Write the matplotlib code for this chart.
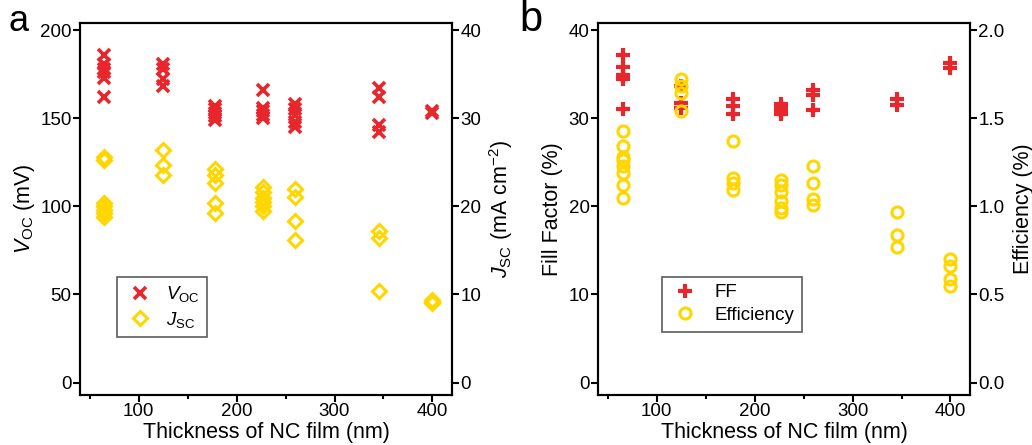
import numpy as np
import matplotlib
matplotlib.use("Agg")
import matplotlib.pyplot as plt

plt.rcParams['font.family'] = ['Liberation Sans', 'DejaVu Sans']
plt.rcParams['mathtext.fontset'] = 'custom'
plt.rcParams['mathtext.rm'] = 'Liberation Sans'
plt.rcParams['mathtext.it'] = 'Liberation Sans:italic'

RED = '#e8262b'
YELLOW = '#ffd600'

# panel a: Voc (mV) and Jsc (mA cm^-2) vs film thickness (nm)
voc_x = [65] * 6 + [125] * 4 + [178] * 5 + [227] * 5 + [260] * 5 + [345] * 4 + [400] * 2
voc_y = [186, 181, 178, 176, 173, 162,
         181, 178, 172, 168,
         157, 155, 153, 151, 149,
         166, 156, 154, 152, 150,
         158, 155, 152, 148, 145,
         167, 162, 146, 142,
         154, 153]
jsc_x = [65] * 7 + [125] * 3 + [178] * 5 + [227] * 6 + [260] * 4 + [345] * 3 + [400] * 3
jsc_y = [25.6, 25.2, 20.4, 20.0, 19.6, 19.2, 18.8,
         26.4, 24.7, 23.6,
         24.2, 23.6, 22.6, 20.4, 19.2,
         22.2, 21.6, 21.0, 20.5, 20.0, 19.5,
         22.0, 21.1, 18.3, 16.2,
         17.2, 16.4, 10.4,
         9.4, 9.2, 9.0]

# panel b: fill factor (%) and efficiency (%)
ff_x = [65] * 5 + [125] * 3 + [178] * 3 + [227] * 4 + [260] * 3 + [345] * 2 + [400] * 2
ff_y = [37.2, 35.8, 34.9, 34.5, 31.0,
        33.7, 31.7, 31.1,
        32.2, 31.4, 30.5,
        31.6, 31.2, 30.8, 30.5,
        33.2, 32.6, 30.9,
        32.2, 31.5,
        36.3, 35.7]
eff_x = [65] * 8 + [125] * 4 + [178] * 4 + [227] * 6 + [260] * 4 + [345] * 3 + [400] * 4
eff_y = [1.43, 1.34, 1.28, 1.26, 1.23, 1.19, 1.12, 1.05,
         1.72, 1.68, 1.64, 1.54,
         1.37, 1.16, 1.13, 1.09,
         1.15, 1.12, 1.08, 1.03, 0.99, 0.97,
         1.23, 1.13, 1.04, 1.01,
         0.97, 0.84, 0.77,
         0.70, 0.66, 0.59, 0.55]

x_ticks = [100, 200, 300, 400]
x_minor = [50, 150, 250, 350]

TICK_FS = 13.5
LABEL_FS = 15.5


def style_axes(ax):
    for sp in ax.spines.values():
        sp.set_linewidth(1.5)
    ax.tick_params(axis='both', which='both', direction='out', width=1.5,
                   labelsize=TICK_FS, pad=1)
    ax.tick_params(axis='both', which='major', length=5)
    ax.tick_params(axis='x', which='minor', length=3)
    ax.set_xlim(40, 420)
    ax.set_xticks(x_ticks)
    ax.set_xticks(x_minor, minor=True)


fig = plt.figure(figsize=(10.32, 4.45), dpi=100)

# ---- panel a ----
ax1 = fig.add_axes([0.0775, 0.1124, 0.3605, 0.836])
ax1.plot(voc_x, voc_y, ls='none', marker='x', ms=9, mew=2.6, color=RED,
         label=r'$V_{\mathrm{OC}}$')
ax1.set_ylim(-7, 204)
ax1.set_yticks([0, 50, 100, 150, 200])
style_axes(ax1)
ax1.set_xlabel('Thickness of NC film (nm)', fontsize=LABEL_FS, labelpad=1.5)
ax1.set_ylabel(r'$V_{\mathrm{OC}}$ (mV)', fontsize=LABEL_FS, labelpad=2)

ax2 = ax1.twinx()
ax2.plot(jsc_x, jsc_y, ls='none', marker='D', ms=7, mew=2.2, mfc='none',
         mec=YELLOW, color=YELLOW, label=r'$J_{\mathrm{SC}}$')
ax2.set_ylim(-1.4, 40.8)
ax2.set_yticks([0, 10, 20, 30, 40])
style_axes(ax2)
ax2.set_ylabel(r'$J_{\mathrm{SC}}$ (mA cm$^{-2}$)', fontsize=LABEL_FS, labelpad=4)

h1, l1 = ax1.get_legend_handles_labels()
h2, l2 = ax2.get_legend_handles_labels()
leg = ax2.legend(h1 + h2, l1 + l2, loc='upper left', bbox_to_anchor=(0.10, 0.318),
                 fontsize=TICK_FS, frameon=True, fancybox=False, borderaxespad=0,
                 handletextpad=0.6, handlelength=1.6, borderpad=0.4, labelspacing=0.3)
leg.get_frame().set_edgecolor('#333333')
leg.get_frame().set_linewidth(1.2)

fig.text(0.008, 0.93, 'a', fontsize=26, ha='left', va='baseline')

# ---- panel b ----
ax3 = fig.add_axes([0.5795, 0.1124, 0.3605, 0.836])
ax3.plot(ff_x, ff_y, ls='none', marker='+', ms=10, mew=3, color=RED, label='FF')
ax3.set_ylim(-1.4, 40.8)
ax3.set_yticks([0, 10, 20, 30, 40])
style_axes(ax3)
ax3.set_xlabel('Thickness of NC film (nm)', fontsize=LABEL_FS, labelpad=1.5)
ax3.set_ylabel('Fill Factor (%)', fontsize=LABEL_FS, labelpad=4)

ax4 = ax3.twinx()
ax4.plot(eff_x, eff_y, ls='none', marker='o', ms=8, mew=2.2, mfc='none',
         mec=YELLOW, color=YELLOW, label='Efficiency')
ax4.set_ylim(-0.07, 2.04)
ax4.set_yticks([0.0, 0.5, 1.0, 1.5, 2.0])
ax4.set_yticklabels(['0.0', '0.5', '1.0', '1.5', '2.0'])
style_axes(ax4)
ax4.set_ylabel('Efficiency (%)', fontsize=LABEL_FS, labelpad=6)

h3, l3 = ax3.get_legend_handles_labels()
h4, l4 = ax4.get_legend_handles_labels()
leg = ax4.legend(h3 + h4, l3 + l4, loc='upper left', bbox_to_anchor=(0.172, 0.318),
                 fontsize=TICK_FS, frameon=True, fancybox=False, borderaxespad=0,
                 handletextpad=0.8, handlelength=1.6, borderpad=0.4, labelspacing=0.3)
leg.get_frame().set_edgecolor('#333333')
leg.get_frame().set_linewidth(1.2)

fig.text(0.503, 0.93, 'b', fontsize=30, ha='left', va='baseline')

fig.savefig('out.png', dpi=100)
